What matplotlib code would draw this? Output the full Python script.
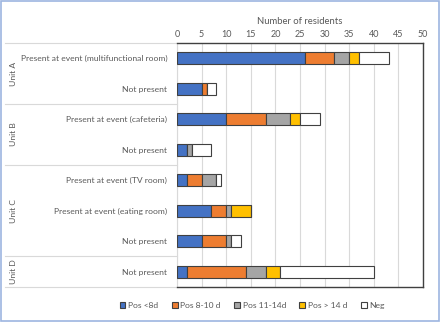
import matplotlib.pyplot as plt
import matplotlib.transforms as mtransforms
from matplotlib.patches import Rectangle
import numpy as np

# rows from top to bottom
units = ["Unit A", "Unit A", "Unit B", "Unit B", "Unit C", "Unit C", "Unit C", "Unit D"]
labels = ["Present at event (multifunctional room)", "Not present",
          "Present at event (cafeteria)", "Not present",
          "Present at event (TV room)", "Present at event (eating room)", "Not present",
          "Not present"]

series_names = ["Pos <8d", "Pos 8-10 d", "Pos 11-14d", "Pos > 14 d", "Neg"]
pos_lt8 = [26, 5, 10, 2, 2, 7, 5, 2]
pos_8_10 = [6, 1, 8, 0, 3, 3, 5, 12]
pos_11_14 = [3, 0, 5, 1, 3, 1, 1, 4]
pos_gt14 = [2, 0, 2, 0, 0, 4, 0, 3]
neg = [6, 2, 4, 4, 1, 0, 2, 19]

colors = ["#4472C4", "#ED7D31", "#A5A5A5", "#FFC000", "#FFFFFF"]
txt = "#595959"

plt.rcParams['font.family'] = ['Lato', 'DejaVu Sans']

fig = plt.figure(figsize=(4.4, 3.22), dpi=100)
ax = fig.add_axes([0.4023, 0.1087, 0.5591, 0.7578])

y = np.arange(len(labels))
left = np.zeros(len(labels))
for name, vals, col in zip(series_names, [pos_lt8, pos_8_10, pos_11_14, pos_gt14, neg], colors):
    vals = np.array(vals)
    ax.barh(y, vals, left=left, height=0.4, color=col, edgecolor="#404040",
            linewidth=0.8, label=name, zorder=3)
    left += vals

ax.set_ylim(len(labels) - 0.5, -0.5)
ax.set_xlim(0, 50)
ax.set_xticks(range(0, 51, 5))
ax.xaxis.tick_top()
ax.xaxis.set_label_position("top")
ax.set_xlabel("Number of residents", color=txt, fontsize=6.8, labelpad=4)
ax.tick_params(axis="x", length=0, labelsize=6.5, labelcolor=txt, pad=3)
ax.set_yticks(y)
ax.set_yticklabels(labels)
ax.tick_params(axis="y", length=0, labelsize=6.1, labelcolor=txt, pad=7)
ax.grid(axis="x", color="#D9D9D9", linewidth=0.8, zorder=0)

for s in ["top", "right", "bottom"]:
    ax.spines[s].set_color("#404040")
    ax.spines[s].set_linewidth(1.0)
ax.spines["left"].set_color("#D9D9D9")

# group separators and unit labels
trans = mtransforms.blended_transform_factory(ax.transAxes, ax.transData)
bounds = [-0.5]
unit_names = []
for i, u in enumerate(units):
    if i == 0 or u != units[i - 1]:
        unit_names.append(u)
        if i > 0:
            bounds.append(i - 0.5)
bounds.append(len(units) - 0.5)
for b in bounds:
    ax.plot([-0.70, 0], [b, b], transform=trans, color="#D9D9D9",
            linewidth=0.8, clip_on=False)
for u, b0, b1 in zip(unit_names, bounds[:-1], bounds[1:]):
    ax.text(-0.665, (b0 + b1) / 2, u, transform=trans, rotation=90,
            ha="center", va="center", fontsize=6.1, color=txt)

fig.legend(loc="center", bbox_to_anchor=(0.573, 0.05), ncol=5, frameon=False,
           fontsize=6.1, labelcolor=txt, handlelength=0.7, handleheight=0.7,
           handletextpad=0.3, columnspacing=1.6)

fig.patches.append(Rectangle((0.002, 0.003), 0.995, 0.994, transform=fig.transFigure,
                             fill=False, edgecolor="#9DB5E0", linewidth=1.2))

fig.savefig("out.png", dpi=100)
